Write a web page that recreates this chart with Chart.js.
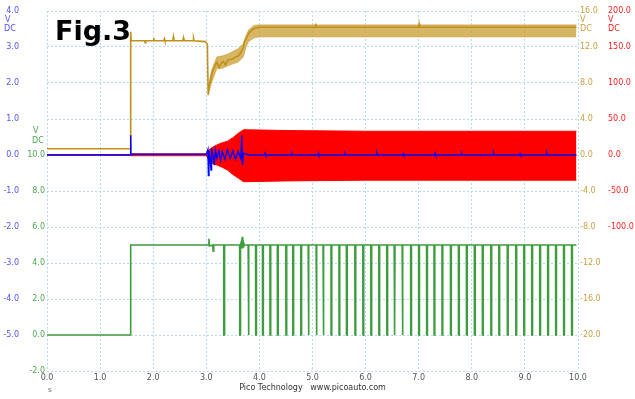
<!DOCTYPE html>
<html><head><meta charset="utf-8">
<script src="https://cdn.jsdelivr.net/npm/chart.js@4/dist/chart.umd.min.js"></script>
<style>html,body{margin:0;padding:0;background:#fff;overflow:hidden}canvas{display:block}</style>
</head><body>
<canvas id="c" width="635" height="399"></canvas>
<script>
// ---- data (time in s, values in V) ----
const goldTime = [0,1.572,1.576,1.585,1.84,1.85,1.86,2.0,2.01,2.02,2.2,2.21,2.22,2.37,2.38,2.39,2.56,2.57,2.58,2.75,2.76,2.77,2.98,3.02,3.035,3.06,3.09,3.12,3.16,3.2,3.24,3.28,3.32,3.36,3.4,3.45,3.5,3.55,3.6,3.66,3.7,3.72,3.76,3.8,3.86,3.92,4.0,5.05,5.06,5.07,7.0,7.01,7.02,9.97];
const goldVolt = [0.69,0.69,13.7,12.7,12.7,12.45,12.7,12.7,13.0,12.7,12.7,12.9,12.7,12.7,13.1,12.7,12.7,13.0,12.7,12.7,12.95,12.7,12.6,12.3,6.7,7.8,8.5,9.3,9.9,10.3,9.7,10.2,10.4,10.0,10.5,10.6,10.7,10.9,11.0,11.5,12.0,12.6,13.0,13.5,13.9,14.1,14.2,14.2,14.6,14.2,14.2,14.55,14.2,14.2];

const goldBandTime = [3.035,3.1,3.2,3.3,3.4,3.5,3.6,3.7,3.75,3.8,3.9,4.0,6.0,8.0,9.97];
const goldBandHigh = [7.6,9.4,10.9,11.0,11.2,11.5,11.8,12.4,13.3,13.9,14.4,14.45,14.45,14.45,14.45];
const goldBandLow  = [6.6,8.0,9.6,9.6,9.9,10.1,10.3,10.9,12.0,12.6,13.0,13.1,13.1,13.1,13.1];

const redTime = [0,1.575,1.58,3.0,3.03,3.1,3.2,3.3,3.4,3.5,3.6,3.7,3.8,4.5,6.0,8.0,9.97];
const redHigh = [0.5,0.5,1.5,1.5,6,10,14,17,19,24,30,35,35,34,33,33,33];
const redLow  = [0,0,-1,-1,-5,-11,-14,-17,-21,-27,-32,-37,-37,-36,-35,-35,-35];

const blueTime = [0,1.572,1.576,1.582,3.0,3.03,3.04,3.05,3.07,3.09,3.1,3.13,3.15,3.17,3.2,3.24,3.27,3.3,3.35,3.4,3.45,3.5,3.55,3.6,3.65,3.67,3.68,3.7,3.8,
  4.1,4.11,4.12,4.6,4.61,4.62,5.1,5.11,5.12,5.6,5.61,5.62,6.2,6.21,6.22,6.7,6.71,6.72,7.3,7.31,7.32,7.8,7.81,7.82,8.4,8.41,8.42,8.9,8.91,8.92,9.4,9.41,9.42,9.97];
const blueVolt = [0,0,0.55,0.02,0.02,0.15,-0.57,0.12,-0.1,-0.42,0.18,-0.05,-0.28,0.15,-0.08,0.12,-0.15,0.1,-0.12,0.15,-0.1,0.12,-0.12,0.1,-0.1,0.55,-0.28,0.05,0,
  0,0.05,0,0,0.04,0,0,0.05,0,0,0.04,0,0,0.05,0,0,0.04,0,0,0.05,0,0,0.04,0,0,0.05,0,0,0.04,0,0,0.05,0,0];

const greenTime = [0,1.572,1.576,3.0,3.04,3.05,3.06,3.12,3.13,3.14,3.665,3.675,3.685,3.695,3.705,3.715,9.97];
const greenVolt = [0,0,5.0,5.0,5.0,5.35,4.95,5.0,4.65,5.0,5.25,4.85,5.45,4.9,5.1,5.0,5.0];
const greenDropTimes = [3.33,3.63,3.79,3.93,4.06,4.20,4.34,4.50,4.63,4.78,4.92,5.07,5.20,5.35,5.50,5.64,5.80,5.95,6.10,6.25,6.40,6.54,6.69,6.85,7.00,7.15,7.29,7.44,7.60,7.75,7.90,8.05,8.20,8.36,8.51,8.67,8.83,8.98,9.13,9.28,9.43,9.58,9.73,9.88];
const greenLow = 0, greenHigh = 5.0;

const xTickValues = [0,1,2,3,4,5,6,7,8,9,10];

// ---- helpers ----
const zip = (t, v) => t.map((x, i) => ({x, y: v[i]}));
function greenPoints() {
  const pts = zip(greenTime, greenVolt);
  greenDropTimes.forEach(t => {
    pts.push({x: t - 0.002, y: greenHigh}, {x: t, y: greenLow}, {x: t + 0.012, y: greenLow}, {x: t + 0.014, y: greenHigh});
  });
  return pts.sort((a, b) => a.x - b.x);
}

const gridColor = '#b4dcee';
const blueLbl = '#5252ee', greenLbl = '#4ea64e', goldLbl = '#c9a043', redLbl = '#ff1c1c';
const tickFont = {family: '"DejaVu Sans"', size: 8};

const textPlugin = {
  id: 'texts',
  afterDraw(chart) {
    const {ctx, scales} = chart;
    const top = scales.yBlue.getPixelForValue(scales.yBlue.max);
    ctx.save();
    ctx.font = '8px "DejaVu Sans"';
    ctx.textBaseline = 'middle';
    ctx.textAlign = 'left';
    const put = (t, c, x, y) => { ctx.fillStyle = c; ctx.fillText(t, x, y); };
    put('V', blueLbl, 5, top + 8.5);  put('DC', blueLbl, 4, top + 17.5);
    const g10 = scales.yGreen.getPixelForValue(10);
    put('V', greenLbl, 33, g10 - 24); put('DC', greenLbl, 32, g10 - 14);
    put('V', goldLbl, scales.yGold.left + 2, top + 8.5); put('DC', goldLbl, scales.yGold.left + 2, top + 17.5);
    put('V', redLbl, scales.yRed.left + 2, top + 8.5);   put('DC', redLbl, scales.yRed.left + 2, top + 17.5);
    ctx.font = '7px "DejaVu Sans"';
    put('s', '#666', scales.x.left + 1, 390);
    ctx.font = 'bold 27px "DejaVu Sans"';
    ctx.textBaseline = 'alphabetic';
    put('Fig.3', '#000', 55, 40);
    ctx.restore();
  }
};

new Chart(document.getElementById('c'), {
  type: 'line',
  data: {
    datasets: [
      {label: 'blue', data: zip(blueTime, blueVolt), yAxisID: 'yBlue', borderColor: '#0000ff', borderWidth: 1.4},
      {label: 'gold', data: zip(goldTime, goldVolt), yAxisID: 'yGold', borderColor: '#c0921c', borderWidth: 1.6},
      {label: 'goldHi', data: zip(goldBandTime, goldBandHigh), yAxisID: 'yGold', borderColor: 'rgba(196,150,34,0.8)', borderWidth: 0.8, fill: '+1', backgroundColor: 'rgba(198,152,40,0.72)'},
      {label: 'goldLo', data: zip(goldBandTime, goldBandLow), yAxisID: 'yGold', borderColor: 'rgba(200,155,40,0.5)', borderWidth: 0.8},
      {label: 'green', data: greenPoints(), yAxisID: 'yGreen', borderColor: '#3d9c3d', borderWidth: 1.6},
      {label: 'redHi', data: zip(redTime, redHigh), yAxisID: 'yRed', borderColor: '#ff0000', borderWidth: 1, fill: '+1', backgroundColor: '#ff0000'},
      {label: 'redLo', data: zip(redTime, redLow), yAxisID: 'yRed', borderColor: '#ff0000', borderWidth: 1}
    ]
  },
  options: {
    responsive: false, animation: false, devicePixelRatio: 1,
    elements: {point: {radius: 0}, line: {tension: 0}},
    layout: {padding: {top: 11, left: 0, right: 0, bottom: 0}},
    plugins: {legend: {display: false}, tooltip: {enabled: false}},
    scales: {
      x: {
        type: 'linear', position: 'bottom', min: 0, max: 10,
        afterBuildTicks: s => { s.ticks = xTickValues.map(v => ({value: v})); },
        ticks: {callback: v => Number(v).toFixed(1), color: '#555', font: tickFont, padding: 2, maxRotation: 0, autoSkip: false},
        grid: {color: gridColor, drawTicks: false, lineWidth: 1},
        border: {display: false, dash: [2, 2]},
        title: {display: true, text: 'Pico Technology   www.picoauto.com', color: '#333', font: {family: '"DejaVu Sans"', size: 8}, padding: {top: 0, bottom: 6}},
        afterFit: s => { s.height = 28; }
      },
      yBlue: {
        position: 'left', weight: 2, min: -6, max: 4,
        ticks: {stepSize: 1, callback: v => v <= -6 ? '' : v.toFixed(1), color: blueLbl, font: tickFont, padding: 4},
        grid: {color: gridColor, drawTicks: false},
        border: {display: false, dash: [2, 2]},
        afterFit: s => { s.width = 23; }
      },
      yGreen: {
        position: 'left', weight: 1, min: -2, max: 18,
        ticks: {stepSize: 2, callback: v => v > 10 ? '' : v.toFixed(1), color: greenLbl, font: tickFont, padding: 2},
        grid: {display: false, drawTicks: false},
        border: {display: false},
        afterFit: s => { s.width = 24; }
      },
      yGold: {
        position: 'right', weight: 1, min: -24, max: 16,
        ticks: {stepSize: 4, callback: v => v <= -24 ? '' : v.toFixed(1), color: goldLbl, font: tickFont, padding: 2},
        grid: {display: false, drawTicks: false},
        border: {display: false},
        afterFit: s => { s.width = 28; }
      },
      yRed: {
        position: 'right', weight: 2, min: -300, max: 200,
        ticks: {stepSize: 50, callback: v => v < -100 ? '' : v.toFixed(1), color: redLbl, font: tickFont, padding: 2},
        grid: {display: false, drawTicks: false},
        border: {display: false},
        afterFit: s => { s.width = 29; }
      }
    }
  },
  plugins: [textPlugin]
});
</script>
</body></html>
